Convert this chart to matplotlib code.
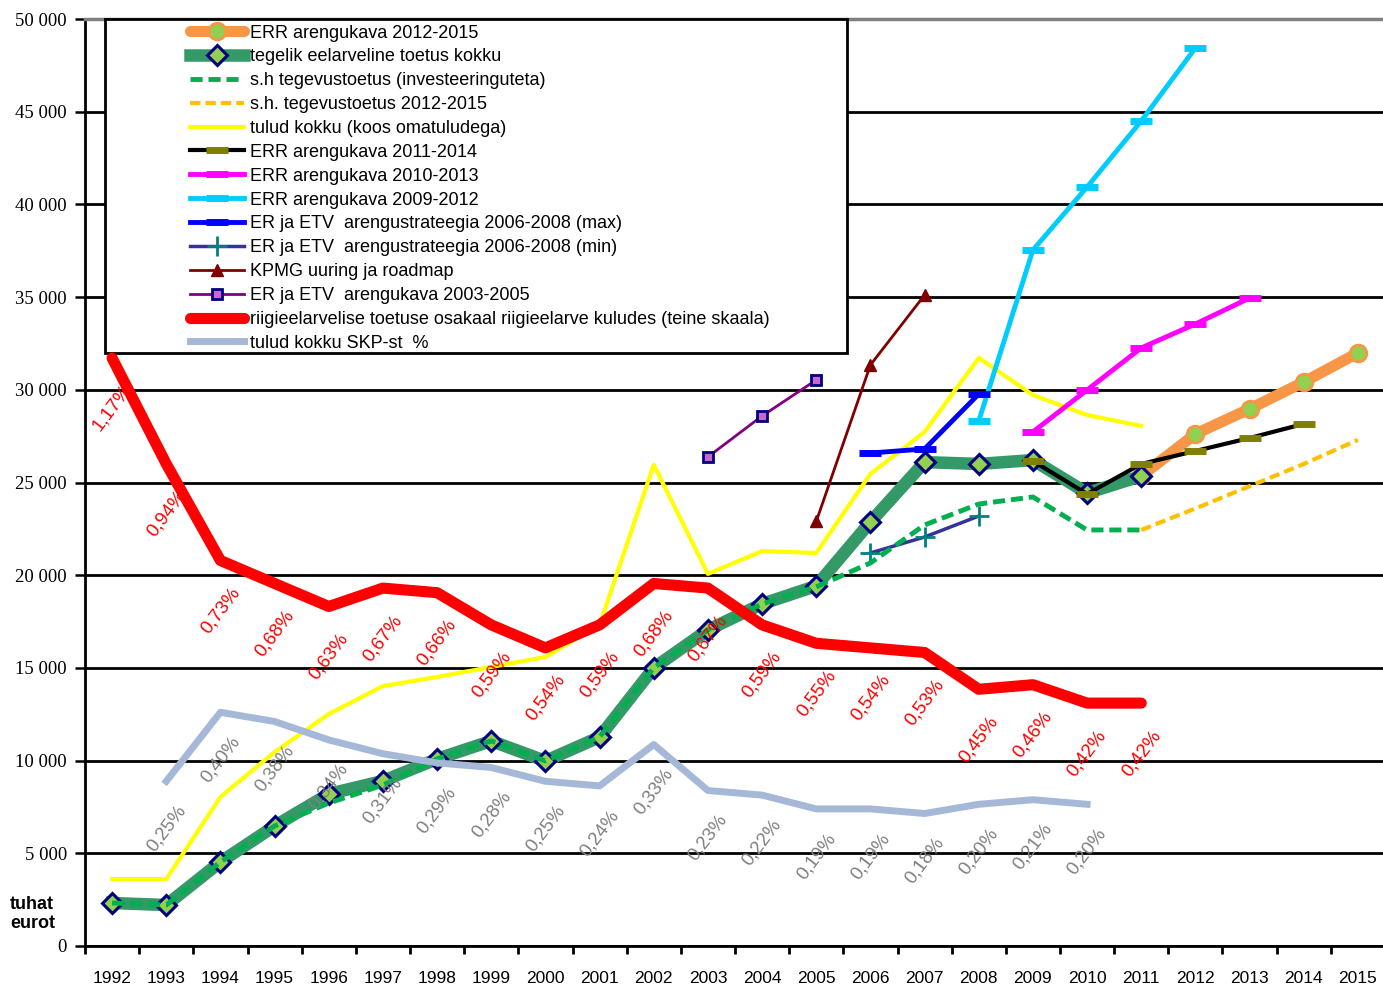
import numpy as np
import matplotlib
matplotlib.use("Agg")
import matplotlib.pyplot as plt
from matplotlib.patches import Rectangle
from matplotlib.ticker import FuncFormatter, FixedLocator

plt.rcParams['font.family'] = ['Liberation Sans', 'DejaVu Sans']

years = list(range(1992, 2016))

# thousand euros
actual_years = list(range(1992, 2012))
actual_total = [2320, 2210, 4530, 6470, 8200, 8900, 10090, 11060, 9980, 11270,
                15000, 17050, 18450, 19420, 22870, 26100, 26000, 26210, 24430, 25350]
operating = [2320, 2210, 4530, 6470, 7710, 8680, 10090, 11060, 9980, 11270,
             15000, 17050, 18450, 19370, 20660, 22710, 23840, 24220, 22440, 22440]
operating_plan_years = [2011, 2012, 2013, 2014, 2015]
operating_plan = [22440, 23600, 24800, 26000, 27300]
revenue = [3610, 3610, 8040, 10460, 12510, 14020, 14510, 15050, 15590, 17320,
           25950, 20070, 21300, 21200, 25460, 27730, 31720, 29720, 28640, 28050]

err1215_years = [2011, 2012, 2013, 2014, 2015]
err1215 = [25350, 27620, 28970, 30420, 31990]
err1114_years = [2009, 2010, 2011, 2012, 2013, 2014]
err1114 = [26160, 24380, 26000, 26700, 27400, 28160]
err1013_years = [2009, 2010, 2011, 2012, 2013]
err1013 = [27730, 29990, 32260, 33550, 34950]
err0912_years = [2008, 2009, 2010, 2011, 2012]
err0912 = [28320, 37540, 40940, 44500, 48440]
strat_years = [2006, 2007, 2008]
strat_max = [26590, 26810, 29770]
strat_min = [21200, 22060, 23190]
kpmg_years = [2005, 2006, 2007]
kpmg = [22900, 31340, 35110]
plan0305_years = [2003, 2004, 2005]
plan0305 = [26380, 28590, 30530]

# percentages (second scale)
share_years = list(range(1992, 2012))
share_budget = [1.17, 0.94, 0.73, 0.68, 0.63, 0.67, 0.66, 0.59, 0.54, 0.59,
                0.68, 0.67, 0.59, 0.55, 0.54, 0.53, 0.45, 0.46, 0.42, 0.42]
gdp_years = list(range(1993, 2011))
share_gdp = [0.25, 0.40, 0.38, 0.34, 0.31, 0.29, 0.28, 0.25, 0.24, 0.33,
             0.23, 0.22, 0.19, 0.19, 0.18, 0.20, 0.21, 0.20]


def idx(ys):
    return [y - 1992 for y in ys]


W, H = 1383, 985
fig = plt.figure(figsize=(W / 100, H / 100), dpi=100)
ax = fig.add_axes([85 / W, 1 - 946 / H, 1300 / W, 927 / H])

ax.plot(idx(err1215_years), err1215, color='#F79646', lw=8, marker='o', ms=12,
        mfc='#92D050', mec='#F79646', mew=2, solid_capstyle='round',
        label='ERR arengukava 2012-2015', zorder=3)
ax.plot(idx(actual_years), actual_total, color='#339966', lw=9, marker='D', ms=10,
        mfc='#92D050', mec='#000080', mew=2.2,
        label='tegelik eelarveline toetus kokku', zorder=4)
ax.plot(idx(actual_years), operating, color='#00B050', lw=3.5, ls=(0, (2.5, 1.2)),
        label='s.h tegevustoetus (investeeringuteta)', zorder=5)
ax.plot(idx(operating_plan_years), operating_plan, color='#FFC000', lw=3,
        ls=(0, (2.5, 1.2)), label='s.h. tegevustoetus 2012-2015', zorder=5)
ax.plot(idx(actual_years), revenue, color='#FFFF00', lw=3,
        label='tulud kokku (koos omatuludega)', zorder=3)
ax.plot(idx(err1114_years), err1114, color='black', lw=3, marker='_', ms=16,
        mec='#808000', mew=5, label='ERR arengukava 2011-2014', zorder=5)
ax.plot(idx(err1013_years), err1013, color='#FF00FF', lw=3.5, marker='_', ms=16,
        mew=5, label='ERR arengukava 2010-2013', zorder=3)
ax.plot(idx(err0912_years), err0912, color='#00CCFF', lw=3.5, marker='_', ms=16,
        mew=5, label='ERR arengukava 2009-2012', zorder=3)
ax.plot(idx(strat_years), strat_max, color='#0000FF', lw=3.5, marker='_', ms=16,
        mew=5, label='ER ja ETV  arengustrateegia 2006-2008 (max)', zorder=3)
ax.plot(idx(strat_years), strat_min, color='#333399', lw=2.5, marker='+', ms=14,
        mec='#008080', mew=2, label='ER ja ETV  arengustrateegia 2006-2008 (min)',
        zorder=3)
ax.plot(idx(kpmg_years), kpmg, color='#800000', lw=2, marker='^', ms=9,
        label='KPMG uuring ja roadmap', zorder=3)
ax.plot(idx(plan0305_years), plan0305, color='#800080', lw=2, marker='s', ms=7,
        mfc='#CC66CC', mec='#000080', mew=2,
        label='ER ja ETV  arengukava 2003-2005', zorder=3)

ax.set_xlim(-0.5, 23.5)
ax.set_ylim(0, 50000)
ax.set_yticks(np.arange(0, 50001, 5000))
ax.yaxis.set_major_formatter(FuncFormatter(lambda v, p: f"{int(v):,}".replace(',', ' ')))
ax.set_xticks(range(len(years)))
ax.set_xticklabels([str(y) for y in years])
ax.xaxis.set_minor_locator(FixedLocator(np.arange(-0.5, 24, 1)))
ax.tick_params(axis='x', which='major', length=0, pad=18, labelsize=12.5)
ax.tick_params(axis='x', which='minor', length=6, width=2, direction='out')
ax.tick_params(axis='y', length=7, width=1.8, direction='out', pad=6)
for t in ax.get_yticklabels():
    t.set_fontfamily('Liberation Serif')
    t.set_fontsize(13.5)
ax.grid(axis='y', color='black', lw=2)
ax.set_axisbelow(True)
for s in ('left', 'bottom'):
    ax.spines[s].set_linewidth(2)
ax.spines['top'].set_color('#808080')
ax.spines['top'].set_linewidth(2.5)
ax.spines['right'].set_visible(False)

# legend box
ax.add_patch(Rectangle((105 / W, 1 - 353 / H), 742 / W, 334 / H, transform=fig.transFigure,
                       facecolor='white', edgecolor='black', lw=2, zorder=2.6,
                       clip_on=False))

ax2 = ax.twinx()
ax2.set_ylim(-0.108, 1.907)
ax2.axis('off')
ax2.plot(idx(share_years), share_budget, color='#FF0000', lw=8, solid_capstyle='round',
         label='riigieelarvelise toetuse osakaal riigieelarve kuludes (teine skaala)')
ax2.plot(idx(gdp_years), share_gdp, color='#A6B8D8', lw=5,
         label='tulud kokku SKP-st  %')
for x, v in zip(idx(share_years), share_budget):
    ax2.annotate(f"{v:.2f}%".replace('.', ','), (x, v), xytext=(0, -36),
                 textcoords='offset points', ha='center', va='center', rotation=53,
                 color='#FF0000', fontsize=13.5)
for x, v in zip(idx(gdp_years), share_gdp):
    ax2.annotate(f"{v:.2f}%".replace('.', ','), (x, v), xytext=(0, -34),
                 textcoords='offset points', ha='center', va='center', rotation=53,
                 color='#808080', fontsize=13.5)

h1, l1 = ax.get_legend_handles_labels()
h2, l2 = ax2.get_legend_handles_labels()
ax2.legend(h1 + h2, l1 + l2, loc='upper left', bbox_to_anchor=(190 / W, 1 - 24.5 / H),
           bbox_transform=fig.transFigure, frameon=False, fontsize=13,
           handlelength=3.0, handletextpad=0.3, labelspacing=0.38,
           borderpad=0, borderaxespad=0, numpoints=1)

fig.text(10 / W, 1 - 914 / H, "tuhat\neurot", fontsize=13, fontweight='bold',
         ha='left', va='center', linespacing=1.2)

fig.savefig("out.png", dpi=100)
